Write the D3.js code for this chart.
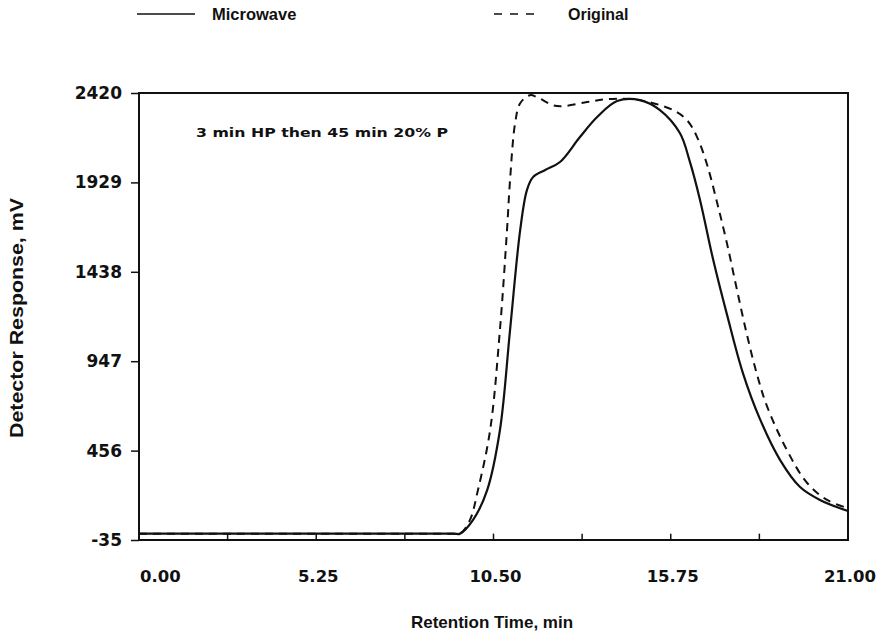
<!DOCTYPE html>
<html>
<head>
<meta charset="utf-8">
<script src="https://cdnjs.cloudflare.com/ajax/libs/d3/7.8.5/d3.min.js"></script>
<style>
  body { margin: 0; background: #fff; }
  text { font-family: "Liberation Sans", Arial, sans-serif; font-weight: bold; fill: #111; }
  .num { font-family: "DejaVu Sans", sans-serif; }
</style>
</head>
<body>
<div id="chart"></div>
<script>
// Data (retention time in min, response in mV)
let microTime = [0, 9.3, 9.51, 9.89, 10.31, 10.69, 10.99, 11.29, 11.49, 11.67, 12.03, 12.47, 13.06, 13.57, 14.16, 14.84, 15.43, 16.02, 16.32, 16.62, 17.0, 17.42, 17.89, 18.39, 18.99, 19.58, 20.17, 21.0];
let microResp = [0, 0, 0, 74, 238, 568, 1118, 1667, 1887, 1958, 1997, 2041, 2178, 2288, 2376, 2381, 2326, 2200, 2040, 1830, 1510, 1200, 880, 630, 404, 256, 185, 124];

let origTime = [0, 9.3, 9.51, 9.8, 10.04, 10.4, 10.69, 10.9, 10.99, 11.14, 11.29, 11.58, 11.79, 12.26, 12.56, 13.27, 13.86, 14.63, 15.23, 15.82, 16.23, 16.53, 16.82, 17.12, 17.42, 17.71, 18.01, 18.31, 18.6, 19.19, 19.79, 20.38, 21.0];
let origResp = [0, 0, 0, 74, 240, 568, 1118, 1667, 1941, 2254, 2364, 2408, 2397, 2353, 2348, 2370, 2386, 2386, 2364, 2326, 2271, 2178, 2030, 1820, 1590, 1340, 1090, 870, 700, 459, 278, 185, 140];

let xTickLabels = [0, 5.25, 10.5, 15.75, 21];
let xMinorTicks = [0, 2.625, 5.25, 7.875, 10.5, 13.125, 15.75, 18.375, 21];
let yTickLabels = [-35, 456, 947, 1438, 1929, 2420];

let svgWidth = 880;
let svgHeight = 638;
let margin = { top: 93, right: 32, bottom: 98, left: 139 };
let width = svgWidth - margin.left - margin.right;
let height = svgHeight - margin.top - margin.bottom;

let svg = d3.select("#chart").append("svg").attr("width", svgWidth).attr("height", svgHeight);
let chartGroup = svg.append("g").attr("transform", `translate(${margin.left}, ${margin.top})`);

let xScale = d3.scaleLinear().domain([0, 21]).range([0, width]);
let yScale = d3.scaleLinear().domain([-35, 2420]).range([height, 0]);

let microData = microTime.map((t, i) => ({ t: t, v: microResp[i] }));
let origData = origTime.map((t, i) => ({ t: t, v: origResp[i] }));

// Frame
chartGroup.append("rect")
  .attr("width", width)
  .attr("height", height)
  .attr("fill", "none")
  .attr("stroke", "#111")
  .attr("stroke-width", 2);

// Y axis ticks (outside)
let yAxis = chartGroup.append("g")
  .call(d3.axisLeft(yScale).tickValues(yTickLabels).tickSize(8).tickFormat(""));
yAxis.select(".domain").remove();
yAxis.selectAll("line").attr("stroke", "#111").attr("stroke-width", 1.5);

chartGroup.selectAll(".ylabel")
  .data(yTickLabels)
  .enter()
  .append("text")
  .attr("class", "ylabel num")
  .attr("x", -17)
  .attr("y", d => yScale(d) + 6)
  .attr("text-anchor", "end")
  .attr("font-size", 17)
  .text(d => d);

// Short ticks between zero line and bottom
chartGroup.selectAll(".xminor")
  .data(xMinorTicks)
  .enter()
  .append("line")
  .attr("x1", d => xScale(d))
  .attr("x2", d => xScale(d))
  .attr("y1", yScale(0))
  .attr("y2", height)
  .attr("stroke", "#111")
  .attr("stroke-width", 1.5);

chartGroup.selectAll(".xlabel")
  .data(xTickLabels)
  .enter()
  .append("text")
  .attr("class", "xlabel num")
  .attr("x", (d, i) => i == 0 ? xScale(d) + 1 : xScale(d) + 2)
  .attr("y", height + 42)
  .attr("text-anchor", (d, i) => i == 0 ? "start" : "middle")
  .attr("font-size", 16.5)
  .text(d => d.toFixed(2));

// Curves
let line = d3.line()
  .x(d => xScale(d.t))
  .y(d => yScale(d.v))
  .curve(d3.curveCatmullRom.alpha(0.5));

chartGroup.append("path")
  .datum(origData)
  .attr("d", line)
  .attr("fill", "none")
  .attr("stroke", "#111")
  .attr("stroke-width", 2)
  .attr("stroke-dasharray", "8,6");

chartGroup.append("path")
  .datum(microData)
  .attr("d", line)
  .attr("fill", "none")
  .attr("stroke", "#111")
  .attr("stroke-width", 2.2);

// Annotation
chartGroup.append("text")
  .attr("class", "num")
  .attr("x", 57)
  .attr("y", 44)
  .attr("font-size", 13)
  .attr("textLength", 252)
  .attr("lengthAdjust", "spacingAndGlyphs")
  .text("3 min HP then 45 min 20% P");

// Axis titles
svg.append("text")
  .attr("x", 492)
  .attr("y", 628)
  .attr("text-anchor", "middle")
  .attr("font-size", 17)
  .text("Retention Time, min");

svg.append("text")
  .attr("transform", `translate(23, 318) rotate(-90)`)
  .attr("text-anchor", "middle")
  .attr("font-size", 18.5)
  .attr("textLength", 240)
  .attr("lengthAdjust", "spacingAndGlyphs")
  .text("Detector Response, mV");

// Legend
let legend = svg.append("g");
legend.append("line")
  .attr("x1", 137).attr("x2", 195)
  .attr("y1", 14).attr("y2", 14)
  .attr("stroke", "#111").attr("stroke-width", 1.5);
legend.append("text")
  .attr("x", 212).attr("y", 20)
  .attr("font-size", 16.5)
  .text("Microwave");
legend.append("line")
  .attr("x1", 494).attr("x2", 540)
  .attr("y1", 14).attr("y2", 14)
  .attr("stroke", "#111").attr("stroke-width", 1.5)
  .attr("stroke-dasharray", "8,8");
legend.append("text")
  .attr("x", 568).attr("y", 20)
  .attr("font-size", 16)
  .text("Original");
</script>
</body>
</html>
